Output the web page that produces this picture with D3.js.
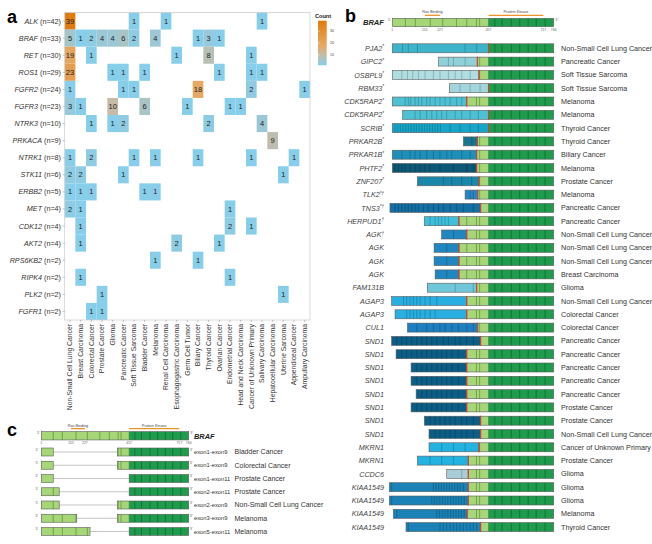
<!DOCTYPE html>
<html>
<head>
<meta charset="utf-8">
<script src="https://cdn.jsdelivr.net/npm/d3@7"></script>
<style>
  body { margin: 0; background: #fff; }
  text { font-family: "Liberation Sans", Arial, sans-serif; }
</style>
</head>
<body>
<div id="viz"></div>
<script>
// ---------- panel a data ----------
var genes = ['ALK','BRAF','RET','ROS1','FGFR2','FGFR3','NTRK3','PRKACA','NTRK1','STK11','ERBB2','MET','CDK12','AKT2','RPS6KB2','RIPK4','PLK2','FGFR1'];
var geneN = [42,33,30,29,24,23,10,9,8,6,5,4,4,4,2,2,2,2];
var cancers = ['Non-Small Cell Lung Cancer','Breast Carcinoma','Colorectal Cancer','Prostate Cancer','Glioma','Pancreatic Cancer','Soft Tissue Sarcoma','Bladder Cancer','Melanoma','Renal Cell Carcinoma','Esophagogastric Carcinoma','Germ Cell Tumor','Biliary Cancer','Thyroid Cancer','Ovarian Cancer','Endometrial Cancer','Head and Neck Carcinoma','Cancer of Unknown Primary','Salivary Carcinoma','Hepatocellular Carcinoma','Uterine Sarcoma','Appendiceal Cancer','Ampullary Carcinoma'];
var counts = [
  [39,0,0,0,0,0,1,0,0,1,0,0,0,0,0,0,0,0,1,0,0,0,0],
  [5,1,2,4,4,6,2,0,4,0,0,0,1,3,1,0,0,0,0,0,0,0,0],
  [19,0,1,0,0,0,0,0,0,0,1,0,0,8,0,0,0,1,0,0,0,0,0],
  [23,0,0,0,1,1,0,1,0,0,0,0,0,0,1,0,0,1,1,0,0,0,0],
  [1,0,0,0,0,1,1,0,0,0,0,0,18,0,0,0,0,2,0,0,0,0,1],
  [3,1,0,0,10,0,0,6,0,0,0,1,0,0,0,1,1,0,0,0,0,0,0],
  [0,0,1,0,1,2,0,0,0,0,0,0,0,2,0,0,0,0,4,0,0,0,0],
  [0,0,0,0,0,0,0,0,0,0,0,0,0,0,0,0,0,0,0,9,0,0,0],
  [1,0,2,0,0,0,1,0,1,0,0,0,1,0,0,0,0,1,0,0,0,1,0],
  [2,2,0,0,0,1,0,0,0,0,0,0,0,0,0,0,0,0,0,0,1,0,0],
  [1,1,1,0,0,0,0,1,1,0,0,0,0,0,0,0,0,0,0,0,0,0,0],
  [2,1,0,0,0,0,0,0,0,0,0,0,0,0,0,1,0,0,0,0,0,0,0],
  [0,1,0,0,0,0,0,0,0,0,0,0,0,0,0,2,0,1,0,0,0,0,0],
  [0,1,0,0,0,0,0,0,0,0,2,0,0,0,1,0,0,0,0,0,0,0,0],
  [0,0,0,0,0,0,0,0,1,0,0,0,1,0,0,0,0,0,0,0,0,0,0],
  [0,1,0,0,0,0,0,0,0,0,0,0,0,0,0,1,0,0,0,0,0,0,0],
  [0,0,0,1,0,0,0,0,0,0,0,0,0,0,0,0,0,0,0,0,1,0,0],
  [0,0,1,1,0,0,0,0,0,0,0,0,0,0,0,0,0,0,0,0,0,0,0]
];
var legendTicks = [10, 20, 30];

// ---------- BRAF protein ----------
var brafLength = 766;
var kinaseStart = 457;
var brafExonsLight = [63,110,181,240,305,354,400,415];
var brafExonsDark = [487,521,565,605,645,683,725];
var brafTicks = [1,155,227,457,717,766];
var domainNames = ['Ras Binding','Protein Kinase'];
var domainStart = [155, 457];
var domainEnd = [227, 717];

// ---------- panel b data ----------
var fusionGene = ['PJA2','GIPC2','OSBPL9','RBM33','CDK5RAP2','CDK5RAP2','SCRIB','PRKAR2B','PRKAR1B','PHTF2','ZNF207','TLK2','TNS3','HERPUD1','AGK','AGK','AGK','AGK','FAM131B','AGAP3','AGAP3','CUL1','SND1','SND1','SND1','SND1','SND1','SND1','SND1','SND1','MKRN1','MKRN1','CCDC6','KIAA1549','KIAA1549','KIAA1549','KIAA1549'];
var fusionMark = ['*','*','*','*','*','*','*','*','*','*','*','*\u2020','*\u2020','\u2020','\u2020','','','','','','','','','','','','','','','','','','','','','',''];
var fusionCancer = ['Non-Small Cell Lung Cancer','Pancreatic Cancer','Soft Tissue Sarcoma','Soft Tissue Sarcoma','Melanoma','Melanoma','Thyroid Cancer','Thyroid Cancer','Biliary Cancer','Melanoma','Prostate Cancer','Melanoma','Pancreatic Cancer','Pancreatic Cancer','Non-Small Cell Lung Cancer','Non-Small Cell Lung Cancer','Non-Small Cell Lung Cancer','Breast Carcinoma','Glioma','Non-Small Cell Lung Cancer','Colorectal Cancer','Colorectal Cancer','Pancreatic Cancer','Pancreatic Cancer','Pancreatic Cancer','Pancreatic Cancer','Pancreatic Cancer','Prostate Cancer','Prostate Cancer','Non-Small Cell Lung Cancer','Cancer of Unknown Primary','Prostate Cancer','Glioma','Glioma','Glioma','Melanoma','Thyroid Cancer'];
// partner start and BRAF breakpoint, on the BRAF residue axis
var partnerStart = [1,220,1,272,1,50,1,338,1,1,120,346,-10,153,235,199,199,204,167,-2,14,73,-2,19,90,90,114,90,153,175,175,120,259,-13,-13,6,66];
var breakAA = [457,404,412,457,354,457,457,404,401,401,412,406,420,317,354,317,317,317,401,354,354,406,420,354,354,354,354,354,420,420,412,361,361,361,361,356,420];
var partnerExons = [
  [50,77,120,346,401],
  [267,291,346],
  [46,73,98,125,156,196,227,267,299,330,370],
  [322,370,417],
  [62,77,88,109,125,141,164,180,204,227,251,275,306,330],
  [109,133,164,188,212,235,259,299,330,370,409],
  [14,27,39,52,65,77,90,103,115,128,141,153,166,178,191,204,216,229,275,322,370,409],
  [378],
  [46,85,109,133,164,196,227,259,283,330,370],
  [14,30,46,62,85,109,133,156,180,227,291,354,385],
  [243,283,330,377],
  [370,385],
  [14,30,46,62,77,93,109,125,148,172,196,220,243,275,306,338,385],
  [180,204,220,235,251,267],
  [291],
  [259],
  [259],
  [259],
  [299,385],
  [54,69,85,101,117,133,156,180,212],
  [69,85,101,117,133,156,180,204],
  [117,164,196,227,251,283,314,354,385],
  [22,46,69,93,117,141,164,188,212,243,267,299,322,354,385],
  [46,69,93,117,141,164,188,212,235,259,283,314],
  [117,141,164,188,212,235,259,283,314],
  [117,141,164,188,212,235,259,283,314],
  [141,164,188,212,235,259,283,314],
  [117,141,164,188,212,235,259,283,314],
  [180,204,227,251,275,299,330,354,385],
  [204,227,251,275,299,330,354,385],
  [235,291,346],
  [180,235,291],
  [330],
  [-2,196,208,221,234,246,259,272,284,297,310,322,338],
  [-2,188,200,213,226,238,251,264,277,290,303,316,329,342],
  [22,212,225,238,251,264,277,290,303,316,329,342],
  [77,227,243,259,275,291,306,322,338,354,370,385,401]
];

// ---------- panel c data ----------
var delLabel = ['exon1-exon9','exon1-exon9','exon1-exon11','exon2-exon11','exon2-exon9','exon3-exon9','exon5-exon11'];
var delCancer = ['Bladder Cancer','Colorectal Cancer','Prostate Cancer','Prostate Cancer','Non-Small Cell Lung Cancer','Melanoma','Melanoma'];
var delEnd5 = [63,63,63,94,94,185,254];
var delStart3 = [397,397,457,457,397,397,457];

// ---------- styles ----------
var partnerColor = {PJA2:'#3DB4C9', GIPC2:'#8FD0D9', OSBPL9:'#B0DDE1', RBM33:'#A3D6DC', CDK5RAP2:'#4DC0D3', SCRIB:'#17A6C9', PRKAR2B:'#17758E', PRKAR1B:'#1D8FB9', PHTF2:'#0E5877', ZNF207:'#1A86AA', TLK2:'#2686C6', TNS3:'#146FA2', HERPUD1:'#40BFDC', AGK:'#2086C0', FAM131B:'#70C7D9', AGAP3:'#28AEE0', CUL1:'#1D7FC0', SND1:'#0D5E87', MKRN1:'#23B3E1', CCDC6:'#A8CDD9', KIAA1549:'#1A82B6'};
var lightGreen = '#A6D677';
var darkGreen = '#1E9B4C';
var outline = '#5c5c5c';
var orange = '#F0922A';

var svg = d3.select('#viz').append('svg')
  .attr('width', 652)
  .attr('height', 544)
  .style('background', '#fff');

// =============== panel a: heatmap ===============
var x = d3.scaleBand().domain(cancers).range([64.7, 310]);
var y = d3.scaleBand().domain(genes).range([12.5, 320]);
var color = d3.scaleLinear().domain([1, 10, 18, 39])
  .range(['#87CEEB', '#C4BCA6', '#E6A862', '#E07C0E']);

var cells = [];
counts.forEach(function(row, i) {
  row.forEach(function(v, j) {
    if (v > 0) cells.push({gene: genes[i], cancer: cancers[j], v: v});
  });
});

var ga = svg.append('g');

ga.selectAll('rect.cell').data(cells).enter().append('rect')
  .attr('class', 'cell')
  .attr('x', function(d) { return x(d.cancer); })
  .attr('y', function(d) { return y(d.gene); })
  .attr('width', x.bandwidth())
  .attr('height', y.bandwidth())
  .attr('fill', function(d) { return color(d.v); });

ga.selectAll('text.val').data(cells).enter().append('text')
  .attr('class', 'val')
  .attr('x', function(d) { return x(d.cancer) + x.bandwidth() / 2; })
  .attr('y', function(d) { return y(d.gene) + y.bandwidth() / 2 + 2.6; })
  .attr('text-anchor', 'middle')
  .attr('font-size', 7.5)
  .attr('fill', '#222')
  .text(function(d) { return d.v; });

ga.append('rect')
  .attr('x', 64.7).attr('y', 12.5)
  .attr('width', 310 - 64.7).attr('height', 320 - 12.5)
  .attr('fill', 'none').attr('stroke', '#cfcfcf').attr('stroke-width', 0.8);

var xAxis = ga.append('g')
  .attr('transform', 'translate(0,320)')
  .call(d3.axisBottom(x).tickSize(2).tickPadding(2));
xAxis.select('.domain').remove();
xAxis.selectAll('line').attr('stroke', '#999').attr('stroke-width', 0.6);
xAxis.selectAll('text')
  .attr('font-size', 6.8)
  .attr('fill', '#333')
  .attr('text-anchor', 'end')
  .attr('transform', 'rotate(-90)')
  .attr('x', -4)
  .attr('y', 0)
  .attr('dy', '0.32em');

var yAxis = ga.append('g')
  .attr('transform', 'translate(64.7,0)')
  .call(d3.axisLeft(y).tickSize(2).tickFormat(''));
yAxis.select('.domain').remove();
yAxis.selectAll('line').attr('stroke', '#999').attr('stroke-width', 0.6);

var ylab = ga.selectAll('text.ylab').data(genes).enter().append('text')
  .attr('class', 'ylab')
  .attr('x', 61)
  .attr('y', function(d) { return y(d) + y.bandwidth() / 2 + 2.5; })
  .attr('text-anchor', 'end')
  .attr('font-size', 7.2)
  .attr('fill', '#333');
ylab.append('tspan').attr('font-style', 'italic').text(function(d) { return d; });
ylab.append('tspan').text(function(d, i) { return ' (n=' + geneN[i] + ')'; });

// legend
var defs = svg.append('defs');
var grad = defs.append('linearGradient').attr('id', 'countGrad')
  .attr('x1', 0).attr('y1', 1).attr('x2', 0).attr('y2', 0);
d3.range(0, 1.0001, 0.05).forEach(function(t) {
  grad.append('stop').attr('offset', t).attr('stop-color', color(1 + t * 38));
});
var yL = d3.scaleLinear().domain([1, 39]).range([65.3, 20.7]);
ga.append('text').attr('x', 315).attr('y', 18.3)
  .attr('font-size', 5.6).attr('font-weight', 'bold').attr('fill', '#222').text('Count');
ga.append('rect').attr('x', 318).attr('y', yL(39))
  .attr('width', 8.7).attr('height', yL(1) - yL(39))
  .attr('fill', 'url(#countGrad)');
ga.selectAll('line.lt').data(legendTicks).enter().append('line')
  .attr('x1', 318).attr('x2', 319.6)
  .attr('y1', function(d) { return yL(d); }).attr('y2', function(d) { return yL(d); })
  .attr('stroke', '#fff').attr('stroke-width', 0.5);
ga.selectAll('text.lt').data(legendTicks).enter().append('text')
  .attr('x', 330).attr('y', function(d) { return yL(d) + 1.2; })
  .attr('font-size', 3.6).attr('fill', '#444')
  .text(function(d) { return d; });

ga.append('text').attr('x', 7).attr('y', 23)
  .attr('font-size', 18).attr('font-weight', 'bold').text('a');

// =============== shared drawing of BRAF parts ===============
function drawBraf(g, xs, yc, h, fromAA) {
  var top = yc - h / 2;
  if (fromAA < kinaseStart) {
    g.append('rect').attr('x', xs(fromAA)).attr('y', top)
      .attr('width', xs(kinaseStart) - xs(fromAA)).attr('height', h)
      .attr('fill', lightGreen);
  }
  var ds = Math.max(fromAA, kinaseStart);
  g.append('rect').attr('x', xs(ds)).attr('y', top)
    .attr('width', xs(brafLength) - xs(ds)).attr('height', h)
    .attr('fill', darkGreen);
  brafExonsLight.filter(function(e) { return e > fromAA + 2; }).forEach(function(e) {
    g.append('line').attr('x1', xs(e)).attr('x2', xs(e)).attr('y1', top).attr('y2', top + h)
      .attr('stroke', '#4E7E32').attr('stroke-width', 0.6);
  });
  brafExonsDark.filter(function(e) { return e > fromAA + 2; }).forEach(function(e) {
    g.append('line').attr('x1', xs(e)).attr('x2', xs(e)).attr('y1', top).attr('y2', top + h)
      .attr('stroke', '#0B5A2A').attr('stroke-width', 0.6);
  });
  if (fromAA < kinaseStart) {
    g.append('line').attr('x1', xs(kinaseStart)).attr('x2', xs(kinaseStart)).attr('y1', top).attr('y2', top + h)
      .attr('stroke', '#3c6a2c').attr('stroke-width', 0.5);
  }
  g.append('rect').attr('x', xs(fromAA)).attr('y', top)
    .attr('width', xs(brafLength) - xs(fromAA)).attr('height', h)
    .attr('fill', 'none').attr('stroke', outline).attr('stroke-width', 0.6);
}

function drawBrafHeader(g, xs, yc, h, labY, lineY, tickY) {
  drawBraf(g, xs, yc, h, 1);
  domainNames.forEach(function(n, i) {
    g.append('line').attr('x1', xs(domainStart[i])).attr('x2', xs(domainEnd[i]))
      .attr('y1', lineY).attr('y2', lineY)
      .attr('stroke', orange).attr('stroke-width', 1.3);
    g.append('text').attr('x', (xs(domainStart[i]) + xs(domainEnd[i])) / 2).attr('y', labY)
      .attr('text-anchor', 'middle').attr('font-size', 3.8).attr('fill', '#444').text(n);
  });
  g.selectAll('text.tick').data(brafTicks).enter().append('text')
    .attr('x', function(d) { return xs(d); }).attr('y', tickY)
    .attr('text-anchor', 'middle').attr('font-size', 3.4).attr('fill', '#666')
    .text(function(d) { return d; });
  g.append('text').attr('x', xs(1) - 3).attr('y', yc - 2).attr('text-anchor', 'middle')
    .attr('font-size', 3.8).attr('fill', '#666').text("5'");
  g.append('text').attr('x', xs(brafLength) + 3).attr('y', yc - 2).attr('text-anchor', 'middle')
    .attr('font-size', 3.8).attr('fill', '#666').text("3'");
}

// =============== panel b ===============
var gb = svg.append('g');
var xB = d3.scaleLinear().domain([1, brafLength]).range([392.3, 553.7]);
var rowB = d3.scalePoint().domain(d3.range(fusionGene.length)).range([48.3, 527.1]);
var hB = 9;

gb.append('text').attr('x', 345).attr('y', 22)
  .attr('font-size', 18).attr('font-weight', 'bold').text('b');

drawBrafHeader(gb, xB, 22.5, 8.4, 12.8, 15.3, 31);
gb.append('text').attr('x', 384).attr('y', 25.3).attr('text-anchor', 'end')
  .attr('font-size', 7.6).attr('font-weight', 'bold').attr('font-style', 'italic')
  .attr('fill', '#222').text('BRAF');

fusionGene.forEach(function(gname, i) {
  var yc = rowB(i);
  var top = yc - hB / 2;
  var c = partnerColor[gname];
  var rg = gb.append('g');
  rg.append('rect').attr('x', xB(partnerStart[i])).attr('y', top)
    .attr('width', xB(breakAA[i]) - xB(partnerStart[i])).attr('height', hB)
    .attr('fill', c);
  partnerExons[i].forEach(function(e) {
    rg.append('line').attr('x1', xB(e)).attr('x2', xB(e)).attr('y1', top).attr('y2', top + hB)
      .attr('stroke', d3.color(c).darker(1.1)).attr('stroke-width', 0.6);
  });
  rg.append('rect').attr('x', xB(partnerStart[i])).attr('y', top)
    .attr('width', xB(breakAA[i]) - xB(partnerStart[i])).attr('height', hB)
    .attr('fill', 'none').attr('stroke', outline).attr('stroke-width', 0.6);
  drawBraf(rg, xB, yc, hB, breakAA[i]);
  rg.append('line').attr('x1', xB(breakAA[i])).attr('x2', xB(breakAA[i]))
    .attr('y1', top - 0.4).attr('y2', top + hB + 0.4)
    .attr('stroke', '#E23B2E').attr('stroke-width', 1.1);

  var t = rg.append('text').attr('x', 384).attr('y', yc + 2.6).attr('text-anchor', 'end')
    .attr('font-size', 7.2).attr('font-style', 'italic').attr('fill', '#444');
  t.append('tspan').text(gname);
  if (fusionMark[i]) t.append('tspan').attr('font-size', 4.5).attr('dy', -2.6).text(fusionMark[i]);
  rg.append('text').attr('x', 561).attr('y', yc + 2.5)
    .attr('font-size', 7.2).attr('fill', '#333').text(fusionCancer[i]);
});

// =============== panel c ===============
var gc = svg.append('g');
var xC = d3.scaleLinear().domain([1, brafLength]).range([41.3, 188.7]);
var rowC = d3.scalePoint().domain(d3.range(delLabel.length)).range([452, 531.5]);
var hC = 8;

gc.append('text').attr('x', 7).attr('y', 436)
  .attr('font-size', 18).attr('font-weight', 'bold').text('c');

drawBrafHeader(gc, xC, 435.8, 8.3, 426.7, 428.6, 443.6);
gc.append('text').attr('x', 194).attr('y', 438.5)
  .attr('font-size', 7.4).attr('font-weight', 'bold').attr('font-style', 'italic')
  .attr('fill', '#222').text('BRAF');

delLabel.forEach(function(lab, i) {
  var yc = rowC(i);
  var top = yc - hC / 2;
  var rg = gc.append('g');
  rg.append('line').attr('x1', xC(delEnd5[i])).attr('x2', xC(delStart3[i]))
    .attr('y1', yc).attr('y2', yc).attr('stroke', '#aaa').attr('stroke-width', 0.7);
  rg.append('rect').attr('x', xC(1)).attr('y', top)
    .attr('width', xC(delEnd5[i]) - xC(1)).attr('height', hC)
    .attr('fill', lightGreen);
  brafExonsLight.filter(function(e) { return e < delEnd5[i] - 2; }).forEach(function(e) {
    rg.append('line').attr('x1', xC(e)).attr('x2', xC(e)).attr('y1', top).attr('y2', top + hC)
      .attr('stroke', '#4E7E32').attr('stroke-width', 0.6);
  });
  rg.append('rect').attr('x', xC(1)).attr('y', top)
    .attr('width', xC(delEnd5[i]) - xC(1)).attr('height', hC)
    .attr('fill', 'none').attr('stroke', outline).attr('stroke-width', 0.6);
  drawBraf(rg, xC, yc, hC, delStart3[i]);
  rg.append('text').attr('x', xC(1) - 4.5).attr('y', yc - 1.5).attr('text-anchor', 'middle')
    .attr('font-size', 3.8).attr('fill', '#666').text("5'");
  rg.append('text').attr('x', xC(brafLength) + 2.5).attr('y', yc - 1.5).attr('text-anchor', 'middle')
    .attr('font-size', 3.8).attr('fill', '#666').text("3'");
  rg.append('text').attr('x', 194).attr('y', yc + 2)
    .attr('font-size', 5.8).attr('fill', '#333').text(lab);
  rg.append('text').attr('x', 234.5).attr('y', yc + 2.4)
    .attr('font-size', 7).attr('fill', '#333').text(delCancer[i]);
});
</script>
</body>
</html>
